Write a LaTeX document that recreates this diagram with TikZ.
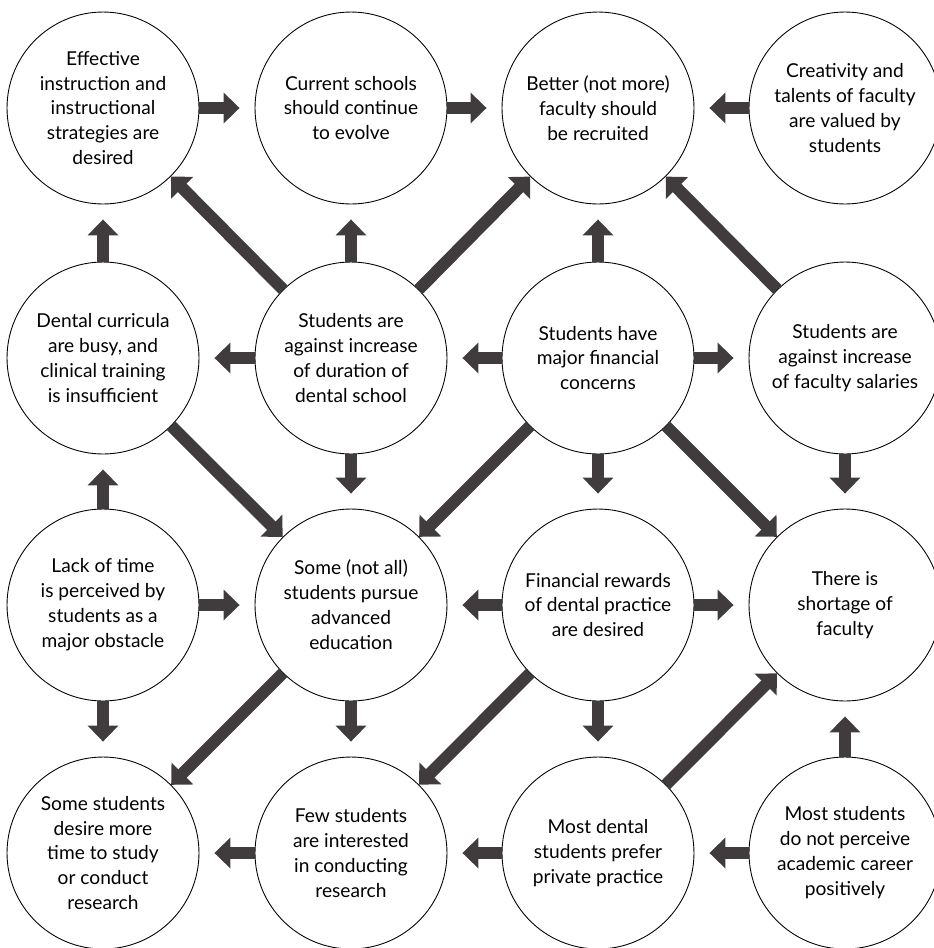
\documentclass[tikz,border=0pt]{standalone}
\usepackage{fontspec}
\setmainfont{Lato}
\usetikzlibrary{arrows.meta}
\definecolor{ar}{RGB}{64,60,61}
\begin{document}
\begin{tikzpicture}[x=0.02cm,y=-0.02cm,
    bub/.style={circle,draw,line width=0.5pt,minimum size=3.84cm,inner sep=0pt,align=center,font=\fontsize{10.9}{14.2}\selectfont},
    arr/.style={-{Triangle[length=0.32cm,width=0.6cm]},draw=ar,line width=0.24cm},
    sarr/.style={arr,shorten >=0.3cm},
]
\useasboundingbox (0,0) rectangle (934,948);

\node[bub] (ins) at (103,108) {Effective\\instruction and\\instructional\\strategies are\\desired};
\node[bub] (evo) at (351,108) {Current schools\\should continue\\to evolve};
\node[bub] (rec) at (598,108) {Better (not more)\\faculty should\\be recruited};
\node[bub] (cre) at (845,108) {Creativity and\\talents of faculty\\are valued by\\students};

\node[bub] (cur) at (103,358) {Dental curricula\\are busy, and\\clinical training\\is insufficient};
\node[bub] (dur) at (351,358) {Students are\\against increase\\of duration of\\dental school};
\node[bub] (fin) at (598,358) {Students have\\major financial\\concerns};
\node[bub] (sal) at (845,358) {Students are\\against increase\\of faculty salaries};

\node[bub] (lack) at (103,605) {Lack of time\\is perceived by\\students as a\\major obstacle};
\node[bub] (adv) at (351,605) {Some (not all)\\students pursue\\advanced\\education};
\node[bub] (rew) at (598,605) {Financial rewards\\of dental practice\\are desired};
\node[bub] (sho) at (845,605) {There is\\shortage of\\faculty};

\node[bub] (res) at (103,853) {Some students\\desire more\\time to study\\or conduct\\research};
\node[bub] (few) at (351,853) {Few students\\are interested\\in conducting\\research};
\node[bub] (pri) at (598,853) {Most dental\\students prefer\\private practice};
\node[bub] (aca) at (845,853) {Most students\\do not perceive\\academic career\\positively};

% short arrows between neighbours
\draw[sarr] (ins) -- (evo); \draw[sarr] (evo) -- (rec); \draw[sarr] (cre) -- (rec);
\draw[sarr] (cur) -- (ins); \draw[sarr] (dur) -- (evo); \draw[sarr] (fin) -- (rec);
\draw[sarr] (dur) -- (cur); \draw[sarr] (fin) -- (dur); \draw[sarr] (fin) -- (sal);
\draw[sarr] (dur) -- (adv); \draw[sarr] (fin) -- (rew); \draw[sarr] (sal) -- (sho);
\draw[sarr] (lack) -- (cur);
\draw[sarr] (lack) -- (adv); \draw[sarr] (rew) -- (adv); \draw[sarr] (rew) -- (sho);
\draw[sarr] (lack) -- (res); \draw[sarr] (adv) -- (few); \draw[sarr] (rew) -- (pri); \draw[sarr] (aca) -- (sho);
\draw[sarr] (few) -- (res); \draw[sarr] (pri) -- (few); \draw[sarr] (aca) -- (pri);

% diagonal arrows
\draw[arr] (dur) -- (ins); \draw[arr] (dur) -- (rec); \draw[arr] (sal) -- (rec);
\draw[arr] (cur) -- (adv); \draw[arr] (fin) -- (adv); \draw[arr] (fin) -- (sho);
\draw[arr] (adv) -- (res); \draw[arr] (rew) -- (few); \draw[arr] (pri) -- (sho);
\end{tikzpicture}
\end{document}
